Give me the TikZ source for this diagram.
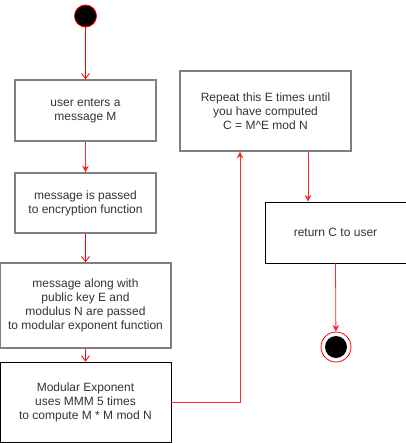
\documentclass[tikz,border=0pt]{standalone}
\usepackage{fontspec}
\setmainfont{Liberation Sans}
\usetikzlibrary{arrows.meta, positioning}

\begin{document}
\begin{tikzpicture}[
  x=0.75pt, y=-0.75pt,
  every node/.style={align=center, font=\fontsize{9pt}{10.5pt}\selectfont, text=black!80},
  box/.style={rectangle, draw=black!50, line width=1pt, inner sep=0pt},
  plainbox/.style={rectangle, draw=black, line width=0.6pt, inner sep=0pt},
  flow/.style={draw=red!85!white, line width=0.6pt, -{Stealth[length=5pt,width=5pt]}},
  openflow/.style={draw=red, line width=0.6pt, -{Straight Barb[length=4pt,width=6pt]}}
]
\useasboundingbox (0,0) rectangle (406,443);

% Start and end markers
\node (start) [circle, fill=black, draw=red, line width=0.6pt, minimum size=16.5pt, inner sep=0pt] at (85.5,16) {};
\node (finish) [circle, draw=red, line width=0.6pt, minimum size=22.5pt, inner sep=0pt,
  path picture={\fill[black] (path picture bounding box.center) circle (8.25pt);}] at (336,347) {};

% Left column
\node (enter) [box, minimum width=105.75pt, minimum height=45.75pt] at (85.5,110.5)
  {user enters a\\message M};
\node (pass) [box, minimum width=105.75pt, minimum height=45pt] at (85.5,203)
  {message is passed\\to encryption function};
\node (keys) [box, minimum width=128.25pt, minimum height=63.75pt] at (85.5,305.5)
  {message along with\\public key E and\\modulus N are passed\\to modular exponent function};
\node (modexp) [plainbox, minimum width=128.25pt, minimum height=60pt] at (85.5,402)
  {Modular Exponent\\uses MMM 5 times\\to compute M * M mod N};

% Right column
\node (repeat) [box, minimum width=128.25pt, minimum height=60pt] at (265.5,111)
  {Repeat this E times until\\you have computed\\C = M\^{}E mod N};
\node (result) [plainbox, minimum width=105.75pt, minimum height=45.75pt] at (335.5,232.5)
  {return C to user};

% Connectors
\draw[openflow] (start) -- (enter.north);
\draw[flow] (enter.south) -- (pass.north);
\draw[openflow] (pass.south) -- (keys.north);
\draw[openflow] (keys.south) -- (modexp.north);
\draw[flow] (modexp.east) -| ([xshift=-19.125pt]repeat.south);
\draw[flow] ([xshift=31.875pt]repeat.south) -- ([xshift=-20.625pt]result.north);
\draw[flow] (result.south) -- (finish);

\end{tikzpicture}
\end{document}
